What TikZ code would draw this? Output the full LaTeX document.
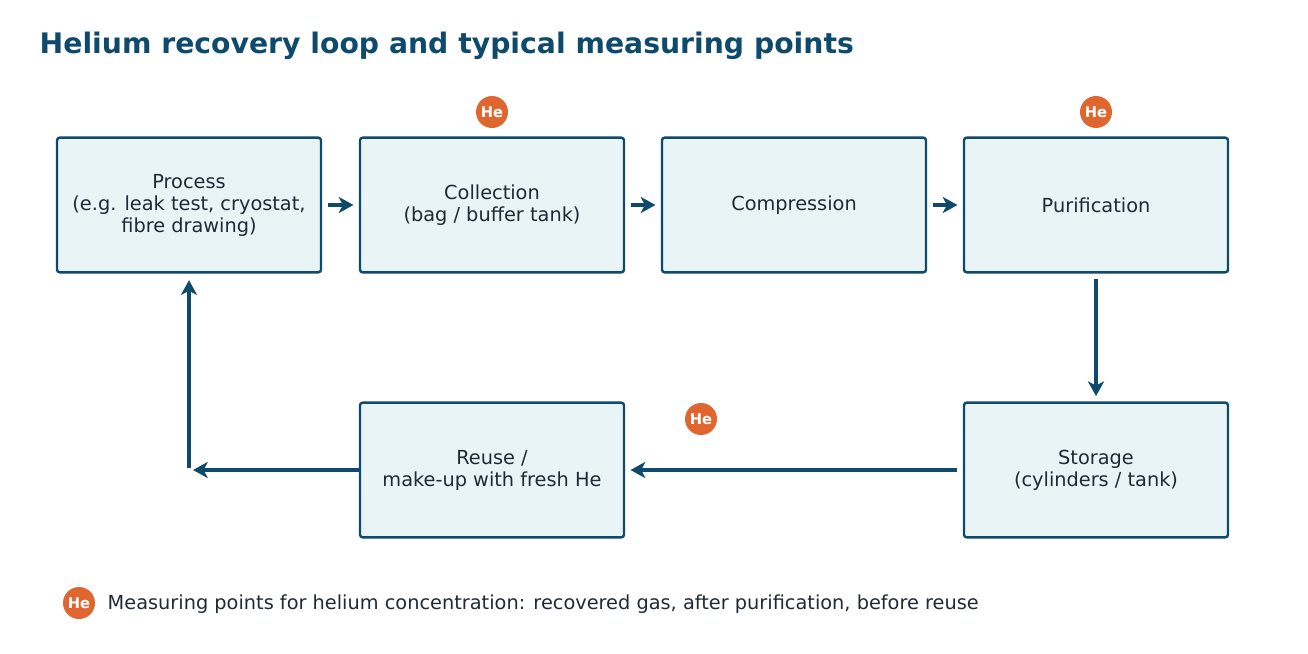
\documentclass[tikz,border=0pt]{standalone}
\usepackage{fontspec}
\setmainfont{DejaVu Sans}
\usetikzlibrary{arrows.meta}
\definecolor{dk}{HTML}{0E4A6B}
\definecolor{bx}{HTML}{E8F4F6}
\definecolor{og}{HTML}{E0662F}
\definecolor{tx}{HTML}{1F2A36}
\begin{document}
\begin{tikzpicture}[x=0.75pt,y=-0.75pt,
 box/.style={draw=dk,fill=bx,line width=1.8pt,rounded corners=2pt,minimum width=198pt,minimum height=101pt,align=center,text=tx,font=\fontsize{14.5}{16.5}\selectfont},
 he/.style={circle,fill=og,minimum size=24pt,inner sep=0pt,text=white,font=\bfseries\fontsize{11}{12}\selectfont},
 arr/.style={draw=dk,line width=2.8pt,-{Stealth[length=11pt,width=12pt,inset=3pt]}}]
\useasboundingbox (0,0) rectangle (1308,653);
\node[anchor=west,text=dk,font=\bfseries\fontsize{21.2}{25}\selectfont] (title) at (35,46) {Helium recovery loop and typical measuring points};
\node[box] (proc) at (189,205) {Process\\(e.g. leak test, cryostat,\\fibre drawing)};
\node[box] (coll) at (492,205) {Collection\\(bag / buffer tank)};
\node[box] (comp) at (794,205) {Compression};
\node[box] (puri) at (1096,205) {Purification};
\node[box] (stor) at (1096,470) {Storage\\(cylinders / tank)};
\node[box] (reuse) at (492,470) {Reuse /\\make-up with fresh He};
\node[he] (h1) at (492,112) {He};
\node[he] (h2) at (1096,112) {He};
\node[he] (h3) at (701,419) {He};
\node[he] (h4) at (79,603) {He};
\node[anchor=west,text=tx,font=\fontsize{14.5}{16.5}\selectfont] (leg) at (103,604) {Measuring points for helium concentration: recovered gas, after purification, before reuse};
\coordinate (c) at (189,468);
\draw[arr] ([xshift=4pt]proc.east) -- ([xshift=-4pt]coll.west);
\draw[arr] ([xshift=4pt]coll.east) -- ([xshift=-4pt]comp.west);
\draw[arr] ([xshift=4pt]comp.east) -- ([xshift=-4pt]puri.west);
\draw[arr] ([yshift=-4pt]puri.south) -- ([yshift=4pt]stor.north);
\draw[arr] ([xshift=-4pt]stor.west) -- ([xshift=4pt]reuse.east);
\draw[arr] (reuse.west) -- (193,470);
\draw[arr] (c) -- ([yshift=-5pt]proc.south);
\end{tikzpicture}
\end{document}
